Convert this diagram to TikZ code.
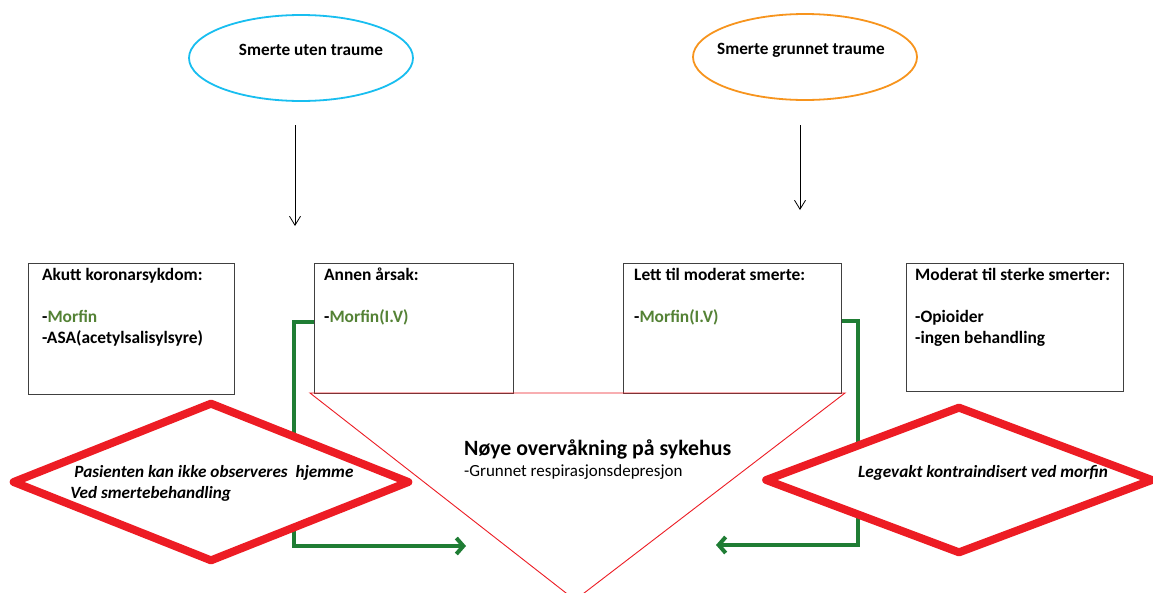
\documentclass[tikz,border=0pt]{standalone}
\usepackage{fontspec}
\setmainfont{Carlito}
\usetikzlibrary{shapes.geometric,arrows.meta,positioning}
\definecolor{skyline}{RGB}{24,190,240}
\definecolor{orangeline}{RGB}{247,148,29}
\definecolor{warnred}{RGB}{237,28,36}
\definecolor{arrowgreen}{RGB}{31,125,52}
\definecolor{drugtext}{RGB}{84,130,53}
\definecolor{boxline}{RGB}{64,64,64}
\tikzset{
  startnode/.style={ellipse,draw,line width=1.8pt,minimum width=224pt,minimum height=86pt,inner sep=0pt},
  starttext/.style={font=\fontsize{17.2}{20}\selectfont\bfseries,inner sep=0pt},
  infobox/.style={draw=boxline,line width=1.3pt,anchor=north west,inner sep=0pt},
  boxtext/.style={anchor=north west,align=left,inner sep=0pt,font=\fontsize{17.4}{21}\selectfont\bfseries},
  warnsign/.style={diamond,draw=warnred,fill=white,line width=8pt,line join=round,inner sep=0pt},
  warntext/.style={font=\fontsize{17.2}{21}\selectfont\bfseries\itshape,align=left,inner sep=0pt},
  flow/.style={draw=arrowgreen,line width=4pt,-{Straight Barb[length=7pt,width=16pt]}},
  down/.style={line width=0.8pt,-{Straight Barb[length=9pt,width=11pt]}}
}
\begin{document}
\begin{tikzpicture}[x=1pt,y=-1pt]
\useasboundingbox (0,0) rectangle (1153,592);
\fill[white] (0,0) rectangle (1153,592);
% starting points
\node[startnode,draw=skyline] (pain) at (301,58) {};
\node[starttext] (painlbl) at (311,50) {Smerte uten traume};
\node[startnode,draw=orangeline] (trauma) at (805,57) {};
\node[starttext] (traumalbl) at (801,50) {Smerte grunnet traume};
\coordinate (pains) at (295,125);
\coordinate (paine) at (295,226);
\coordinate (traumas) at (800,125);
\coordinate (traumae) at (800,210);
\draw[down] (pains) -- (paine);
\draw[down] (traumas) -- (traumae);
% boxes
\node[infobox,minimum width=206pt,minimum height=131pt] (acute) at (28,263) {};
\node[infobox,minimum width=199pt,minimum height=130pt] (other) at (314,263) {};
\node[infobox,minimum width=218pt,minimum height=130pt] (mild) at (623,263) {};
\node[infobox,minimum width=217pt,minimum height=128pt] (severe) at (906,263) {};
\node[boxtext] (acutet) at ([xshift=14pt,yshift=-5pt]acute.north west)
  {Akutt koronarsykdom:\\[21pt]-\textcolor{drugtext}{Morfin}\\-ASA(acetylsalisylsyre)};
\node[boxtext] (othert) at ([xshift=10pt,yshift=-5pt]other.north west)
  {Annen årsak:\\[21pt]-\textcolor{drugtext}{Morfin(I.V)}};
\node[boxtext] (mildt) at ([xshift=11pt,yshift=-5pt]mild.north west)
  {Lett til moderat smerte:\\[21pt]-\textcolor{drugtext}{Morfin(I.V)}};
\node[boxtext] (severet) at ([xshift=9pt,yshift=-5pt]severe.north west)
  {Moderat til sterke smerter:\\[21pt]-Opioider\\-ingen behandling};
% hospital funnel
\draw[warnred,line width=0.9pt] (310,393) -- (845,393) -- (575,600) -- cycle;
\node[anchor=base west,inner sep=0pt,font=\fontsize{21.8}{25}\selectfont\bfseries] (care) at (464,455) {Nøye overvåkning på sykehus};
\node[anchor=base west,inner sep=0pt,font=\fontsize{17}{20}\selectfont] (cause) at (464,476) {-Grunnet respirasjonsdepresjon};
% green routes
\coordinate (carel) at (466,546);
\coordinate (carer) at (716,545);
\draw[flow] ([yshift=6.5pt]other.west) -- ++(-20,0) |- (carel);
\draw[flow] ([yshift=8pt]mild.east) -- ++(16,0) |- (carer);
% warnings
\node[warnsign,minimum width=398pt,minimum height=160pt] (home) at (211,482) {};
\node[warntext] (homet) at (212,483) {\hspace{4pt}Pasienten kan ikke observeres\ \ hjemme\\Ved smertebehandling};
\node[warnsign,minimum width=389pt,minimum height=148pt] (clinic) at (959,480) {};
\node[warntext] (clinict) at (983,473) {Legevakt kontraindisert ved morfin};
\end{tikzpicture}
\end{document}
